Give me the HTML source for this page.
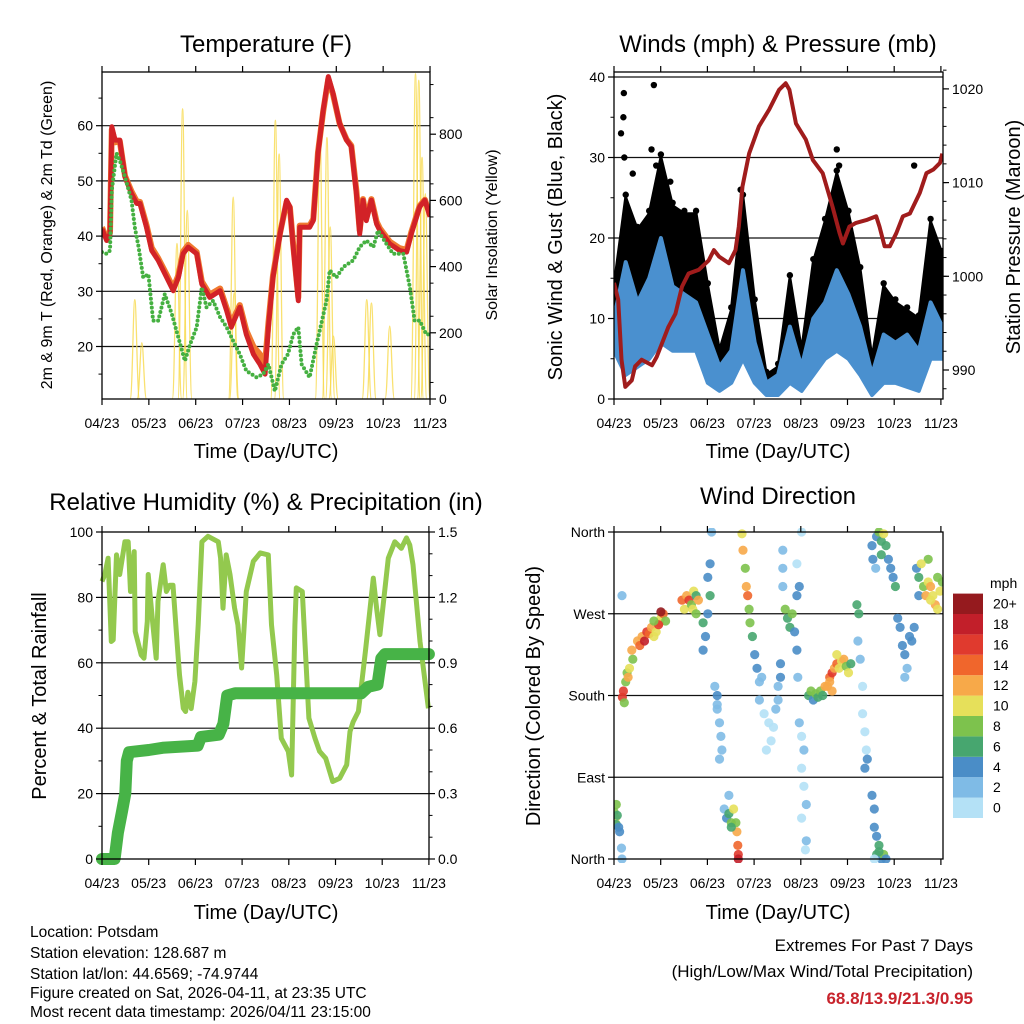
<!DOCTYPE html>
<html><head><meta charset="utf-8">
<style>
html,body{margin:0;padding:0;background:#fff;}
svg{display:block;font-family:"Liberation Sans",sans-serif;}
</style></head>
<body>
<svg id="chart" width="1024" height="1024" viewBox="0 0 1024 1024">
<defs>
<clipPath id="c1"><rect x="102" y="72" width="328" height="327"/></clipPath>
<clipPath id="c2"><rect x="614" y="72" width="329" height="327"/></clipPath>
<clipPath id="c3"><rect x="102" y="532" width="327" height="327"/></clipPath>
<clipPath id="c4"><rect x="614" y="528" width="329" height="335"/></clipPath>
</defs>
<g id="g1"></g>
<g id="g2"></g>
<g id="g3"></g>
<g id="g4"></g>
<g id="gtext">
<text x="30" y="937" font-size="15.5">Location: Potsdam</text>
<text x="30" y="958" font-size="15.5">Station elevation: 128.687 m</text>
<text x="30" y="979" font-size="15.5">Station lat/lon: 44.6569; -74.9744</text>
<text x="30" y="998" font-size="15.5">Figure created on Sat, 2026-04-11, at 23:35 UTC</text>
<text x="30" y="1017" font-size="15.5">Most recent data timestamp: 2026/04/11 23:15:00</text>
<text x="973" y="951" font-size="17" text-anchor="end">Extremes For Past 7 Days</text>
<text x="973" y="977" font-size="17" text-anchor="end">(High/Low/Max Wind/Total Precipitation)</text>
<text x="973" y="1004" font-size="17" font-weight="bold" fill="#c8232c" text-anchor="end">68.8/13.9/21.3/0.95</text>
</g>
</svg>
<script>
// ---------- DATA ----------
const monthLabels = ["04/23","05/23","06/23","07/23","08/23","09/23","10/23","11/23"];
const tempTimes = [0,0.1,0.17,0.21,0.28,0.38,0.49,0.63,0.74,0.81,0.95,1.06,1.2,1.38,1.52,1.63,1.73,1.84,2.02,2.13,2.3,2.52,2.66,2.76,2.94,3.08,3.23,3.37,3.48,3.55,3.65,3.8,3.94,4.01,4.08,4.19,4.22,4.43,4.51,4.61,4.72,4.83,4.93,5.07,5.22,5.32,5.43,5.5,5.57,5.64,5.75,5.86,5.93,6.14,6.35,6.5,6.6,6.78,6.89,7.0];
const temp2m = [41.3,39.2,40.4,59.8,57.4,57.4,50.7,47.7,45.9,45.9,41.6,37.4,35.6,32.5,30.1,32.5,36.8,38,36.8,31.3,28.9,30.1,26.5,23.5,27.1,22.2,18.6,16.8,15,23.5,32.5,40.4,46.5,45.3,38,28.3,41.6,41.6,42.8,55,62.8,68.9,65.9,60.4,57.4,56.2,47.7,40.4,46.5,42.8,46.5,42.2,41,38.6,37.4,37.1,40.4,45.3,46.5,43.5];
const temp9m = [41.6,39.5,40.6,59.3,57.0,57.2,50.9,48.1,46.3,46.2,42.0,37.9,36.0,33.0,30.6,32.9,37.2,38.4,37.1,31.8,29.4,30.5,27.0,24.2,27.5,22.9,20.0,18.6,17.0,24.2,32.9,40.6,46.2,45.2,38.4,28.9,41.9,41.9,43.1,55.2,62.6,68.5,65.7,60.4,57.5,56.4,48.2,41.0,46.7,43.2,46.7,42.6,41.4,39.0,37.8,37.5,40.7,45.5,46.6,43.8];
const tdTimes = [0,0.1,0.17,0.21,0.31,0.38,0.49,0.63,0.7,0.78,0.88,0.99,1.09,1.2,1.34,1.49,1.63,1.77,1.88,2.02,2.13,2.23,2.37,2.52,2.66,2.8,2.94,3.08,3.3,3.44,3.55,3.69,3.83,3.97,4.08,4.19,4.26,4.43,4.58,4.79,4.86,5.0,5.15,5.36,5.5,5.64,5.79,5.89,6.07,6.21,6.43,6.57,6.67,6.78,6.92,7.0];
const dewPoint = [37.1,36.8,37.4,48.3,55,53.7,50.7,46.5,41.6,38,32.5,33.1,24.7,24.7,29.5,25.9,21.6,17.4,20.4,23.5,30.7,27.1,28.3,25.3,23.5,21,18.6,15.6,14.4,15,16.8,11.9,16.8,18.6,22.2,23.5,16.8,14.4,20.4,28.3,33.8,32.5,34.4,35.6,38,39.2,38,41,38.6,36.8,36.8,30.7,24.7,24.7,22.2,22.2];
const solarTimes = [0.7,0.85,1.6,1.72,1.82,2.8,2.82,3.7,3.78,4.65,4.8,4.87,4.94,5.65,5.75,6.14,6.69,6.76,6.83,6.9];
const solarPeaks = [300,170,470,877,570,610,320,842,740,820,790,520,190,300,290,220,983,963,730,620];
const windTimes = [0,0.25,0.5,0.75,1,1.25,1.5,1.75,2,2.25,2.5,2.75,3,3.25,3.5,3.75,4,4.25,4.5,4.75,5,5.25,5.5,5.75,6,6.25,6.5,6.75,7];
const windLo = [6,3,4,5,7,6,6,6,2,1,2,5,2,0.5,0.5,2,1,3,5,6,5,3,0.5,2,2,1.5,1,5,5];
const windHi = [10,17,12,15,20,14,13,12,8,4,6,16,7,2,3,9,4,10,12,16,13,9,3,8,7,8,6,12,9];
const gustLo = [7,8,10,11,14,12,12,11,5,2,3,9,3,2,2,3,2,5,10,14,12,5,1,4,4,3,3,11,9];
const gustHi = [14,25,21,23,30,24,23,23,14,6,11,25,12,3,4,15,6,17,22,28,23,16,5,14,12,11,10,22,18];
const gustOutT = [0.21,0.2,0.22,0.4,0.85,0.8,0.9,1.2,4.75,4.8,6.4,0.15,2.7];
const gustOutV = [38,35,30,28,39,31,29,27,31,29,29,33,26];
const presTimes = [0,0.09,0.16,0.24,0.38,0.45,0.59,0.81,0.91,1.02,1.16,1.31,1.45,1.59,1.81,2.02,2.13,2.24,2.45,2.59,2.66,2.74,2.88,3.09,3.31,3.52,3.66,3.74,3.88,4.09,4.24,4.45,4.66,4.81,4.88,5.02,5.16,5.38,5.59,5.66,5.77,5.88,6.02,6.16,6.31,6.52,6.66,6.81,6.95,7.0];
const pressure = [999.3,997.5,991.1,988.2,988.9,990.4,991.1,990.5,991.4,992.8,994.6,996,998.9,1000.3,1000.7,1001.7,1002.8,1002.1,1001.4,1002.8,1005.3,1009.6,1013.1,1016,1017.8,1019.9,1020.6,1019.9,1016.3,1014.6,1012.4,1011,1007.4,1004.6,1003.5,1005.3,1005.7,1006,1006.4,1005.3,1003.2,1003.2,1004.6,1006.4,1006.7,1008.9,1011,1011.4,1012.1,1013.1];
const rhTimes = [0,0.06,0.13,0.2,0.24,0.31,0.38,0.49,0.56,0.61,0.69,0.71,0.84,0.9,0.97,0.99,1.09,1.16,1.2,1.31,1.38,1.45,1.52,1.59,1.66,1.74,1.79,1.84,1.91,1.99,2.06,2.14,2.27,2.49,2.54,2.59,2.66,2.74,2.84,2.91,2.99,3.09,3.24,3.39,3.56,3.63,3.74,3.84,3.99,4.06,4.13,4.16,4.29,4.43,4.56,4.66,4.79,4.94,5.09,5.24,5.31,5.38,5.49,5.64,5.74,5.81,5.88,5.95,6.13,6.27,6.41,6.52,6.59,6.66,6.81,6.99];
const rh = [84.9,87,92,66.5,67,93,87,97,97,81.8,94,69.6,62.4,61.4,72.7,87,71.6,61.4,78.8,90,81.8,83.7,83.7,69.6,56.3,46.1,45.1,51,46,54.3,71.6,97,98.7,97,92,76.7,93,87,76.7,71.6,58.4,81.8,91,93.6,93,71.6,56.3,36.9,32.9,25.7,71.6,82.9,81.8,43.1,36.9,32.9,30.8,23.7,24.7,28.8,39,42,45.1,63.5,76.7,85.9,76.7,68.6,92,97,95,98.2,96,90,66.5,46.1,43.1,42];
const precTimes = [0,0.27,0.34,0.43,0.5,0.53,0.58,1.0,1.3,2.05,2.12,2.5,2.6,2.68,2.85,5.55,5.7,5.9,5.98,6.06,7.0];
const precip = [0,0,0.12,0.22,0.3,0.45,0.49,0.5,0.51,0.52,0.56,0.57,0.62,0.75,0.76,0.76,0.79,0.8,0.92,0.94,0.94];
const dirTimes = [0,0.03,0.05,0.07,0.1,0.05,0.12,0.16,0.17,0.17,0.18,0.2,0.22,0.25,0.28,0.3,0.33,0.4,0.38,0.5,0.55,0.6,0.65,0.7,0.75,0.8,0.85,0.9,0.97,1,1.05,1.1,1,0.95,0.85,1.5,1.45,1.55,1.6,1.65,1.7,1.75,1.8,1.68,1.75,1.9,1.95,1.9,2,2.05,2.05,2,2.08,2.15,2.2,2.2,2.25,2.28,2.3,2.25,2.2,2.35,2.4,2.45,2.5,2.55,2.6,2.62,2.64,2.65,2.65,2.5,2.45,2.73,2.75,2.8,2.82,2.85,2.88,2.9,2.95,3,3.05,3.1,3.15,3.1,3.2,3.3,3.4,3.35,3.25,3.45,3.5,3.55,3.55,3.5,3.6,3.65,3.7,3.75,3.8,3.85,3.9,3.95,3.9,3.92,3.6,3.6,3.95,4,4.05,4,4.05,4.1,4,4.1,4.08,3.9,4,4.15,4.2,4.25,4.3,4.35,4.4,4.45,4.5,4.55,4.6,4.65,4.7,4.75,4.8,4.85,4.9,4.95,5,5.05,4.75,4.6,4.65,5.2,5.22,5.18,5.25,5.3,5.3,5.35,5.38,5.35,5.4,5.5,5.55,5.55,5.6,5.65,5.6,5.7,5.75,5.8,5.65,5.55,5.5,5.52,5.6,5.65,5.7,5.75,5.8,5.85,5.9,5.95,6,5.7,5.58,6.05,6.1,6.15,6.2,6.25,6.3,6.35,6.4,6.2,6.45,6.5,6.5,6.6,6.65,6.7,6.75,6.8,6.85,6.9,6.95,7,6.7,6.55,6.75,6.9];
const dirDeg = [52,45,38,48,35,60,30,12,0,290,178,185,172,195,205,200,210,220,230,240,235,245,240,250,248,255,245,250,260,265,270,262,272,258,262,275,285,290,285,280,295,290,285,275,270,260,245,230,310,325,290,270,360,190,180,165,150,135,120,110,170,55,45,50,40,55,40,30,15,5,0,35,70,358,340,320,300,290,275,260,245,225,210,195,200,175,160,150,145,130,120,165,190,200,215,175,300,275,265,255,270,250,290,300,230,200,320,340,150,135,120,100,80,60,45,20,10,325,360,180,185,175,182,178,185,180,190,190,200,205,210,215,210,218,220,212,205,215,225,195,185,240,270,280,220,190,160,140,120,100,110,70,55,35,25,15,5,0,5,0,8,0,345,330,355,360,350,358,345,330,320,310,300,335,320,265,255,235,225,210,245,240,255,200,320,310,290,300,290,305,300,290,280,310,295,305,330,325,285,275];
const dirSpeed = [8,10,6,7,5,8,4,3,2,3,16,17,9,9,8,12,10,8,12,13,14,12,18,16,14,13,10,11,12,10,14,9,20,17,8,10,14,12,16,8,10,6,12,10,8,6,5,4,4,4,6,5,2,3,4,2,2,3,2,2,3,2,4,6,8,10,9,12,14,16,18,7,3,10,12,8,12,14,9,8,6,4,4,2,3,2,1,0,1,1,1,2,3,4,4,2,3,8,6,7,9,5,4,4,4,3,2,2,2,1,2,1,1,2,1,2,1,1,1,6,8,5,8,6,9,7,12,13,14,16,12,14,10,10,12,8,10,6,11,12,12,3,6,6,2,1,1,1,1,4,4,4,4,4,5,6,6,5,8,4,7,1,4,4,5,8,7,10,6,4,4,4,6,6,3,4,4,4,4,3,4,4,4,3,4,6,5,9,12,10,12,10,12,8,10,8,8,10,11,10];
const speedBins = ["0","2","4","6","8","10","12","14","16","18","20+"];
const speedColors = ["#b4e1f6","#7fbbe6","#4a8dc7","#47a66f","#7dc24d","#e6e05a","#f7a949","#f0662c","#e03a2e","#c21f2a","#951a1e"];

// ---------- HELPERS ----------
const NS = "http://www.w3.org/2000/svg";
function mk(parent, tag, attrs, txt){
  const e = document.createElementNS(NS, tag);
  for (const k in attrs) e.setAttribute(k, attrs[k]);
  if (txt !== undefined) e.textContent = txt;
  parent.appendChild(e);
  return e;
}
function pathD(ts, vs, xf, yf){
  let d = "";
  for (let i=0;i<ts.length;i++) d += (i?"L":"M") + xf(ts[i]).toFixed(1) + "," + yf(vs[i]).toFixed(1);
  return d;
}
function frame(g, x0, y0, x1, y1, name){
  const r = mk(g,"rect",{x:x0,y:y0,width:x1-x0,height:y1-y0,fill:"none",stroke:"#000","stroke-width":1.3});
  
  
}
function xTicks(g, x0, step, y0, y1, labY){
  for (let i=0;i<monthLabels.length;i++){
    const x = x0 + i*step;
    mk(g,"line",{x1:x,y1:y1,x2:x,y2:y1+6,stroke:"#000","stroke-width":1.2});
    mk(g,"line",{x1:x,y1:y0,x2:x,y2:y0-6,stroke:"#000","stroke-width":1.2});
    const t = mk(g,"text",{x:x,y:labY,"font-size":14,"text-anchor":"middle"},monthLabels[i]);
    
    
  }
}
function yTicks(g, vals, labels, yf, xAxis, side, minorVals){
  const dir = side==="left"?-1:1;
  vals.forEach((v,i)=>{
    const y = yf(v);
    mk(g,"line",{x1:xAxis,y1:y,x2:xAxis+dir*6,y2:y,stroke:"#000","stroke-width":1.2});
    const t = mk(g,"text",{x:xAxis+dir*9,y:y+5,"font-size":14,"text-anchor":side==="left"?"end":"start"},labels[i]);
    
    
  });
  (minorVals||[]).forEach(v=>{
    const y = yf(v);
    mk(g,"line",{x1:xAxis,y1:y,x2:xAxis+dir*3.5,y2:y,stroke:"#000","stroke-width":1});
  });
}
function grid(g, vals, yf, x0, x1){
  vals.forEach(v=>{ const y=yf(v); mk(g,"line",{x1:x0,y1:y,x2:x1,y2:y,stroke:"#111","stroke-width":1.2}); });
}
function label(g, x, y, size, txt, rot, name){
  const a = {x:x,y:y,"font-size":size,"text-anchor":"middle"};
  if (rot) a.transform = "rotate(-90 "+x+" "+y+")";
  const t = mk(g,"text",a,txt);
  
  
}
function range(a,b,s){ const r=[]; for(let v=a; v<=b+1e-9; v+=s) r.push(+v.toFixed(4)); return r; }

// ---------- PANEL 1: TEMPERATURE ----------
(function(){
  const g = document.getElementById("g1");
  const X = t => 102 + t*46.86;
  const YT = v => 346.5 - (v-20)*5.52;
  const YS = s => 399 - s*0.331;
  label(g,266,52,24,"Temperature (F)",false,"temperature-title");
  const plot = mk(g,"g",{"clip-path":"url(#c1)"});
  grid(plot,[20,30,40,50,60],YT,102,430);
  solarTimes.forEach((t,i)=>{
    const p = solarPeaks[i], w = 0.1;
    const d = "M"+X(t-w)+","+YS(0)+" C"+X(t-w*0.5)+","+YS(0)+" "+X(t-w*0.35)+","+YS(p)+" "+X(t)+","+YS(p)+" C"+X(t+w*0.35)+","+YS(p)+" "+X(t+w*0.5)+","+YS(0)+" "+X(t+w)+","+YS(0);
    const e = mk(plot,"path",{d:d,fill:"none",stroke:"#f7d94c","stroke-width":1.3,opacity:0.8});
    
    
  });
  let e = mk(plot,"path",{d:pathD(tempTimes,temp9m,X,YT),fill:"none",stroke:"#f07a30","stroke-width":6,"stroke-linejoin":"round"});
  
  
  e = mk(plot,"path",{d:pathD(tempTimes,temp2m,X,YT),fill:"none",stroke:"#d22227","stroke-width":5,"stroke-linejoin":"round"});
  
  
  e = mk(plot,"path",{d:pathD(tdTimes,dewPoint,X,YT),fill:"none",stroke:"#45b041","stroke-width":4,"stroke-dasharray":"0 4.5","stroke-linecap":"round","stroke-linejoin":"round"});
  
  
  frame(g,102,72,430,399,"temperature-plot-frame");
  xTicks(g,102,46.86,72,399,428);
  yTicks(g,[20,30,40,50,60],["20","30","40","50","60"],YT,102,"left",[15,25,35,45,55,65]);
  yTicks(g,[0,200,400,600,800],["0","200","400","600","800"],YS,430,"right",range(50,950,100));
  label(g,266,458,20,"Time (Day/UTC)",false,"x-axis-title");
  label(g,52,235,16,"2m & 9m T (Red, Orange) & 2m Td (Green)",true,"temperature-y-title");
  label(g,497,235,16,"Solar Insolation (Yellow)",true,"solar-y-title");
})();

// ---------- PANEL 2: WIND & PRESSURE ----------
(function(){
  const g = document.getElementById("g2");
  const X = t => 614 + t*46.9;
  const YW = v => 399 - v*8.05;
  const YP = p => 370 - (p-990)*9.37;
  label(g,778,52,24,"Winds (mph) & Pressure (mb)",false,"wind-title");
  const plot = mk(g,"g",{"clip-path":"url(#c2)"});
  grid(plot,[10,20,30,40],YW,614,943);
  let d = pathD(windTimes,gustHi,X,YW) + pathD(windTimes.slice().reverse(),gustLo.slice().reverse(),X,YW).replace("M","L") + "Z";
  let e = mk(plot,"path",{d:d,fill:"#000",stroke:"#000","stroke-width":3,"stroke-linejoin":"round"});
  
  
  windTimes.forEach((t,i)=>{
    const c = mk(plot,"circle",{cx:X(t),cy:YW(gustHi[i])-3,r:3.2,fill:"#000"});
    
    
  });
  gustOutT.forEach((t,i)=>{
    const c = mk(plot,"circle",{cx:X(t),cy:YW(gustOutV[i]),r:3.2,fill:"#000"});
    
    
  });
  d = pathD(windTimes,windHi,X,YW) + pathD(windTimes.slice().reverse(),windLo.slice().reverse(),X,YW).replace("M","L") + "Z";
  e = mk(plot,"path",{d:d,fill:"#4a90cf",stroke:"#4a90cf","stroke-width":4,"stroke-linejoin":"round"});
  
  
  e = mk(plot,"path",{d:pathD(presTimes,pressure,X,YP),fill:"none",stroke:"#a01c1c","stroke-width":4,"stroke-linejoin":"round"});
  
  
  frame(g,614,72,943,399,"wind-plot-frame");
  xTicks(g,614,46.7,72,399,428);
  yTicks(g,[0,10,20,30,40],["0","10","20","30","40"],YW,614,"left",[5,15,25,35]);
  yTicks(g,[990,1000,1010,1020],["990","1000","1010","1020"],YP,943,"right",range(988,1022,2));
  label(g,778,458,20,"Time (Day/UTC)",false,"x-axis-title");
  label(g,562,237,20,"Sonic Wind & Gust (Blue, Black)",true,"wind-y-title");
  label(g,1020,237,20,"Station Pressure (Maroon)",true,"pressure-y-title");
})();

// ---------- PANEL 3: RH & PRECIP ----------
(function(){
  const g = document.getElementById("g3");
  const X = t => 102 + t*46.7;
  const YR = v => 859 - v*3.27;
  const YPr = p => 859 - p*218;
  label(g,266,510,24,"Relative Humidity (%) & Precipitation (in)",false,"humidity-title");
  const plot = mk(g,"g",{});
  grid(plot,[20,40,60,80],YR,102,429);
  let e = mk(plot,"path",{d:pathD(rhTimes,rh,X,YR),fill:"none",stroke:"#93c94e","stroke-width":5,"stroke-linejoin":"round"});
  
  
  e = mk(plot,"path",{d:pathD(precTimes,precip,X,YPr),fill:"none",stroke:"#47b347","stroke-width":12,"stroke-linejoin":"round","stroke-linecap":"round"});
  
  
  frame(g,102,532,429,859,"humidity-plot-frame");
  xTicks(g,102,46.7,532,859,888);
  yTicks(g,[0,20,40,60,80,100],["0","20","40","60","80","100"],YR,102,"left",[10,30,50,70,90]);
  yTicks(g,[0,0.3,0.6,0.9,1.2,1.5],["0.0","0.3","0.6","0.9","1.2","1.5"],YPr,429,"right",range(0.1,1.4,0.1).filter(v=>Math.abs(v*10%3)>0.01));
  label(g,266,919,20,"Time (Day/UTC)",false,"x-axis-title");
  label(g,46,696,20,"Percent & Total Rainfall",true,"humidity-y-title");
})();

// ---------- PANEL 4: WIND DIRECTION ----------
(function(){
  const g = document.getElementById("g4");
  const X = t => 614 + t*46.9;
  const YD = d => 859 - d*0.9083;
  label(g,778,504,24,"Wind Direction",false,"direction-title");
  grid(g,[90,180,270],YD,614,943);
  const plot = mk(g,"g",{"clip-path":"url(#c4)"});
  dirTimes.forEach((t,i)=>{
    const bin = Math.min(10, Math.floor(dirSpeed[i]/2));
    const c = mk(plot,"circle",{cx:X(t).toFixed(1),cy:YD(dirDeg[i]).toFixed(1),r:4.6,fill:speedColors[bin],opacity:0.9});
    
    
  });
  frame(g,614,532,943,859,"direction-plot-frame");
  xTicks(g,614,46.7,532,859,888);
  yTicks(g,[0,90,180,270,360],["North","East","South","West","North"],YD,614,"left",[]);
  label(g,778,919,20,"Time (Day/UTC)",false,"x-axis-title");
  label(g,540,696,20,"Direction (Colored By Speed)",true,"direction-y-title");
  const t = mk(g,"text",{x:990,y:588,"font-size":14},"mph");
  
  
  speedBins.forEach((lab,i)=>{
    const y = 818 - (i+1)*20.4;
    const r = mk(g,"rect",{x:953,y:y,width:30,height:20.4,fill:speedColors[i]});
    
    
    const tl = mk(g,"text",{x:993,y:y+15,"font-size":14},lab);
    
    
  });
})();
</script>
</body></html>
